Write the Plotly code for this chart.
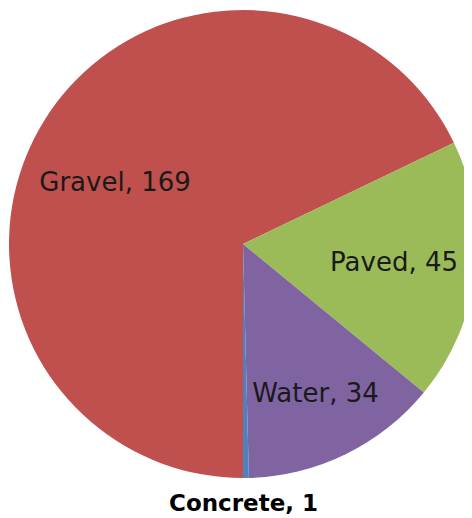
import plotly.graph_objects as go

labels = ["Gravel", "Paved", "Water", "Concrete"]
values = [169, 45, 34, 1]
colors = ["#C0504D", "#9BBB59", "#8064A2", "#4F81BD"]
positions = ["inside", "inside", "inside", "none"]

# the Gravel label sits left of its slice's centre line in the original,
# trailing non-breaking spaces nudge it over
pad = "\u00a0" * 7
templates = ["%{label}, %{value}" + pad, "%{label}, %{value}",
             "%{label}, %{value}", "%{label}, %{value}"]

# the 1-value slice is too thin for its label, so it is written under the pie
small = labels.index("Concrete")
small_label = "<b>%s, %d</b>" % (labels[small], values[small])

fig = go.Figure(go.Pie(
    labels=labels,
    values=values,
    marker=dict(colors=colors, line=dict(width=0)),
    sort=False,
    direction="clockwise",
    rotation=180,
    textposition=positions,
    texttemplate=templates,
    insidetextorientation="horizontal",
    textfont=dict(family="DejaVu Sans", size=26, color="#1a1a1a"),
    showlegend=False,
    hoverinfo="label+value",
))

fig.add_annotation(
    text=small_label, x=0.5, y=-0.053, xref="paper", yref="paper",
    xanchor="center", yanchor="middle", showarrow=False,
    font=dict(family="DejaVu Sans", size=23, color="#000000"),
)

fig.update_layout(
    width=480,
    height=518,
    margin=dict(l=1, r=11, t=2, b=48),
    paper_bgcolor="white",
    uniformtext=dict(minsize=26, mode="show"),
)

fig.write_html("out.html")
